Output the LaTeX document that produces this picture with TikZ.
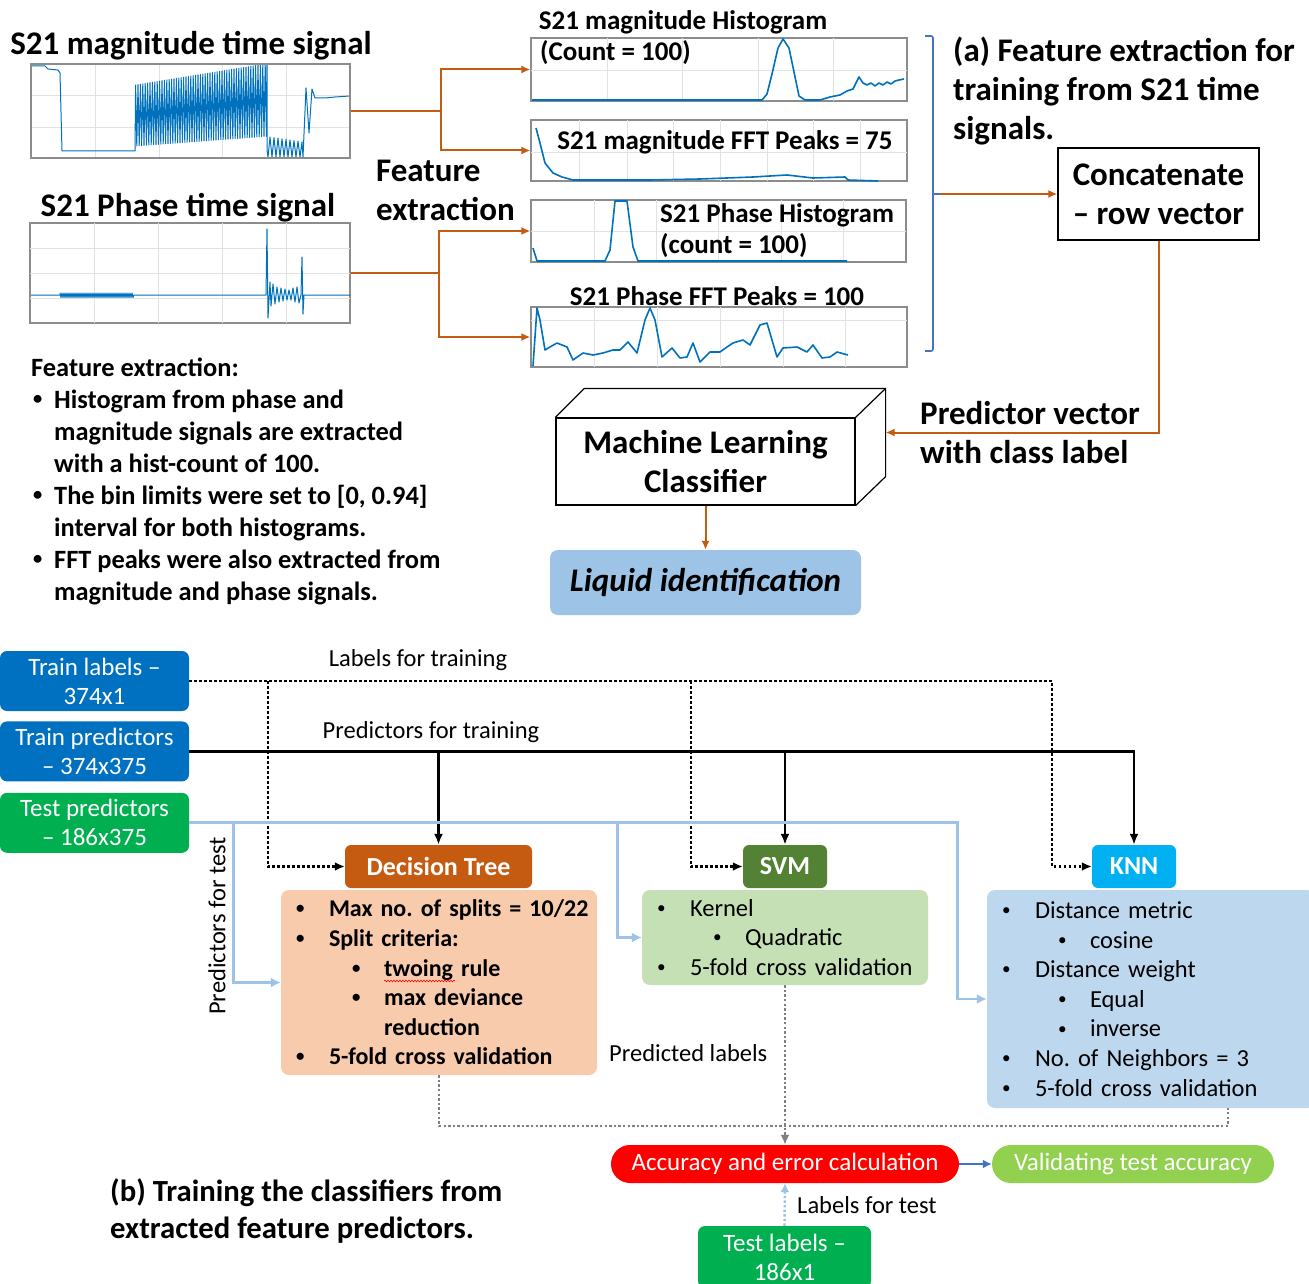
\documentclass[tikz,border=0pt]{standalone}
\usepackage{fontspec}
\usepackage{graphicx}
\setmainfont{Carlito}
\frenchspacing
\usetikzlibrary{positioning,arrows.meta,decorations.pathmorphing}

% colours
\definecolor{orline}{HTML}{C55A11}
\definecolor{brkblue}{HTML}{4472C4}
\definecolor{sigblue}{HTML}{0072BD}
\definecolor{gridgray}{HTML}{E2E2E2}
\definecolor{framegray}{HTML}{8C8C8C}
\definecolor{trainblue}{HTML}{0070C0}
\definecolor{testgreen}{HTML}{00B050}
\definecolor{dtfill}{HTML}{C55A11}
\definecolor{dtlight}{HTML}{F8CBAD}
\definecolor{svmfill}{HTML}{548235}
\definecolor{svmlight}{HTML}{C5E0B4}
\definecolor{knnfill}{HTML}{00B0F0}
\definecolor{knnlight}{HTML}{BDD7EE}
\definecolor{testlinec}{HTML}{9DC3E6}
\definecolor{liquidfill}{HTML}{9DC3E6}
\definecolor{accred}{HTML}{FF0000}
\definecolor{validgreen}{HTML}{92D050}
\definecolor{predgray}{HTML}{7F7F7F}

% fonts
\newcommand{\fnttitle}{\fontsize{33}{39}\selectfont\bfseries}
\newcommand{\fnthist}{\fontsize{27}{31}\selectfont\bfseries}
\newcommand{\fntside}{\fontsize{26.4}{32}\selectfont\bfseries}
\newcommand{\fntcap}{\fontsize{30.7}{37}\selectfont\bfseries}
\newcommand{\fntliquid}{\fontsize{33}{36}\selectfont\bfseries\itshape}
\newcommand{\fntlbl}{\fontsize{24.5}{29}\selectfont}
\newcommand{\fntbox}{\fontsize{25}{29}\selectfont}
\newcommand{\fnthead}{\fontsize{26}{30}\selectfont\bfseries}
\newcommand{\fntlist}{\fontsize{24.5}{29.6}\selectfont}
\newcommand{\dotmark}{\raisebox{0.12em}{\scalebox{0.7}{\textbullet}}}
\newcommand{\itm}{\makebox[36pt][l]{\hspace{3pt}\dotmark}}
\newcommand{\subitm}{\hspace*{56pt}\makebox[35pt][l]{\hspace{3pt}\dotmark}}

\begin{document}
\begin{tikzpicture}[x=1pt, y=-1pt,
    plotbox/.style={draw=framegray, line width=1.2pt, inner sep=0pt},
    gridln/.style={gridgray, line width=0.7pt},
    sig/.style={sigblue, line width=1pt, line join=round},
    bigtext/.style={font=\fnttitle, align=left, inner sep=0pt},
    histtext/.style={font=\fnthist, align=left, inner sep=0pt},
    orarrow/.style={orline, line width=2pt, -{Latex[length=9pt,width=8pt]}},
    trainbox/.style={fill=trainblue, text=white, rounded corners=7pt, minimum width=189, minimum height=60, inner sep=0pt, align=center, font=\fntbox},
    testbox/.style={trainbox, fill=testgreen},
    algohead/.style={text=white, rounded corners=6pt, minimum height=43, inner sep=0pt, font=\fnthead},
    algobody/.style={rounded corners=8pt, inner xsep=12pt, inner ysep=0pt, align=left, font=\fntlist},
    pillbox/.style={text=white, rounded corners=19pt, minimum height=38, inner sep=0pt, font=\fntbox},
    lbline/.style={black, line width=2.6pt, dash pattern=on 2.6pt off 2.4pt, -{Latex[length=10pt,width=9pt]}},
    trline/.style={black, line width=2.8pt, -{Latex[length=11pt,width=9pt]}},
    tsline/.style={testlinec, line width=2.8pt, -{Latex[length=10pt,width=10pt]}},
    pdline/.style={predgray, line width=2.4pt, dash pattern=on 2.4pt off 2.2pt},
    lbl/.style={font=\fntlbl, inner sep=0pt}
]
\useasboundingbox (0,0) rectangle (1309,1284);
\fill[white] (0,0) rectangle (1309,1284);

% ---------- (a) time signals ----------
\node[bigtext] (magtitle) at (191,46) {S21 magnitude time signal};
\node[plotbox, minimum width=319, minimum height=94] (magsig) at (190.5,111) {};
\foreach \gx in {95,159,222,286} \draw[gridln] (\gx,64) -- (\gx,158);
\foreach \gy in {95,127} \draw[gridln] (31,\gy) -- (350,\gy);
\draw[sig] (31,66) -- (45,66) -- (48,69) -- (58,70) -- (60,73) -- (62,151) -- (135,151)
  \foreach \i in {0,...,54} { -- ({135+2.4*\i+0.6},{85-0.39*\i}) -- ({135+2.4*\i+1.8},{146-0.18*\i}) }
  -- (267,64) -- (267,150)
  \foreach \i in {0,...,8} { -- ({268+4*\i},157) -- ({270+4*\i},{137+0.6*\i}) }
  -- (303,157) -- (306,88) -- (309,133) -- (312,89) -- (315,98) -- (325,98) -- (335,97) -- (350,96);
\node[plotbox, minimum width=319, minimum height=94] (magsig) at (190.5,111) {};

\node[bigtext] (phtitle) at (188,208) {S21 Phase time signal};
\node[plotbox, minimum width=320, minimum height=100] (phsig) at (190,273) {};
\foreach \gx in {94,158,222,286} \draw[gridln] (\gx,223) -- (\gx,323);
\foreach \gy in {248,273,298} \draw[gridln] (30,\gy) -- (350,\gy);
\draw[sig] (31,295) -- (60,295)
  \foreach \i in {0,...,36} { -- ({60+2*\i},293) -- ({61+2*\i},297.5) }
  -- (134,295) -- (266,295) -- (267,229) -- (268,318) -- (270,282) -- (271,306) -- (273,284)
  -- (275,304) -- (277,287) -- (279,302) -- (281,288) -- (283,301) -- (285,289) -- (287,300)
  -- (289,290) -- (291,300) -- (293,288) -- (295,302) -- (297,287) -- (299,303) -- (301,295)
  -- (302,257) -- (303,314) -- (304,295) -- (350,295);

\node[bigtext, anchor=west] (featlbl) at (376,190) {Feature\\extraction};

% ---------- (a) extracted features ----------
\node[histtext] (maghisttitle) at (683,22) {S21 magnitude Histogram};
\node[plotbox, minimum width=376, minimum height=63] (maghist) at (719,69.5) {};
\foreach \gx in {607,682,758,833} \draw[gridln] (\gx,38) -- (\gx,101);
\draw[gridln] (531,70) -- (907,70);
\draw[sig, line width=1.6pt] (532,100) -- (762,100) -- (767,94) -- (772,74) -- (778,48) -- (783,39) -- (789,48)
  -- (794,72) -- (799,96) -- (805,100) -- (820,100) -- (830,97) -- (840,95) -- (847,91) -- (853,89)
  -- (859,77) -- (863,83) -- (867,85) -- (871,83) -- (875,86) -- (879,83) -- (883,85) -- (887,82)
  -- (891,84) -- (895,81) -- (899,80) -- (904,79);
\node[histtext, anchor=west] (maghistlbl) at (540,53) {(Count = 100)};

\node[plotbox, minimum width=376, minimum height=61] (magfft) at (719,150.5) {};
\foreach \gx in {579,627,673,720,767,813,860} \draw[gridln] (\gx,120) -- (\gx,181);
\draw[gridln] (531,152) -- (907,152);
\draw[sig, line width=1.6pt] (536,128) -- (540,143) -- (545,163) -- (553,173) -- (562,177) -- (573,180)
  -- (650,180) -- (700,179) -- (753,177) -- (787,175) -- (813,178) -- (845,177) -- (848,180) -- (878,181);
\node[histtext] (magfftlbl) at (725,142) {S21 magnitude FFT Peaks = 75};

\node[plotbox, minimum width=375, minimum height=62] (phhist) at (718.5,231) {};
\foreach \gx in {594,656,718,781,843} \draw[gridln] (\gx,200) -- (\gx,262);
\draw[gridln] (531,231) -- (906,231);
\draw[sig, line width=1.6pt] (533,248) -- (537,261) -- (605,261) -- (610,250) -- (615,201) -- (627,201)
  -- (633,247) -- (638,261) -- (847,261);
\node[histtext, anchor=west] (phhistlbl) at (660,231) {S21 Phase Histogram\\(count = 100)};

\node[histtext] (phffttitle) at (717,296) {S21 Phase FFT Peaks = 100};
\node[plotbox, minimum width=376, minimum height=60] (phfft) at (719,337) {};
\foreach \gx in {594,657,720,783,845} \draw[gridln] (\gx,307) -- (\gx,367);
\draw[gridln] (531,320) -- (907,320);
\draw[sig, line width=1.6pt] (533,366) -- (537,308) -- (540,320) -- (545,350) -- (550,347) -- (557,343)
  -- (567,347) -- (573,360) -- (583,353) -- (593,355) -- (603,353) -- (613,350) -- (620,350) -- (628,342)
  -- (637,353) -- (645,320) -- (650,308) -- (655,320) -- (662,357) -- (672,348) -- (680,358) -- (687,357)
  -- (693,343) -- (700,362) -- (710,352) -- (720,352) -- (727,347) -- (733,343) -- (743,340) -- (750,345)
  -- (760,325) -- (767,323) -- (777,357) -- (783,348) -- (797,347) -- (807,352) -- (813,345) -- (822,358)
  -- (830,357) -- (837,352) -- (848,355);

\draw[orarrow] (magsig.east) -- ++(90,0) |- (maghist.west);
\draw[orarrow] (magsig.east) -- ++(90,0) |- (magfft.west);
\draw[orarrow] (phsig.east) -- ++(88,0) |- (phhist.west);
\draw[orarrow] (phsig.east) -- ++(88,0) |- (phfft.west);

% bracket and concatenation
\draw[brkblue, line width=1.6pt, rounded corners=2pt] (925,36) -- (933,36) -- (933,351) -- (925,351);
\coordinate (brmid) at (933,194);
\draw[brkblue, line width=1.6pt] (brmid) -- ++(7,0);
\node[bigtext, anchor=west] (capa) at (953,91) {(a) Feature extraction for\\training from S21 time\\signals.};
\node[draw, line width=1.2pt, minimum width=201, minimum height=92, font=\fnttitle, align=left] (concat) at (1158.5,194) {Concatenate\\– row vector};
\draw[orarrow] ([xshift=7]brmid) -- (concat.west);

% classifier
\node[draw, line width=1.2pt, minimum width=299, minimum height=87, font=\fnttitle, align=center] (ml) at (705.5,461.5) {Machine Learning\\Classifier};
\draw[line width=1.2pt, line join=round] (ml.north west) -- ++(29,-29) -- ([shift={(30,-29)}]ml.north east)
  -- ([shift={(30,-29)}]ml.south east) -- (ml.south east);
\draw[line width=1.2pt] (ml.north east) -- ++(30,-29);
\coordinate (mlside) at ([shift={(30,-29)}]ml.east);
\draw[orarrow] (concat.south) |- (mlside);
\node[bigtext, anchor=west] (predvec) at (920,433) {Predictor vector\\with class label};
\node[fill=liquidfill, rounded corners=8pt, minimum width=311, minimum height=65, font=\fntliquid] (liquid) at (705.5,582.5) {Liquid identification};
\draw[orarrow] (ml.south) -- (liquid.north);

\node[anchor=west, font=\fntside, align=left, inner sep=0pt] (featlist) at (31,481) {Feature extraction:\\
  \makebox[23pt][l]{\hspace{2pt}\dotmark}Histogram from phase and\\
  \hspace*{23pt}magnitude signals are extracted\\
  \hspace*{23pt}with a hist-count of 100.\\
  \makebox[23pt][l]{\hspace{2pt}\dotmark}The bin limits were set to [0, 0.94]\\
  \hspace*{23pt}interval for both histograms.\\
  \makebox[23pt][l]{\hspace{2pt}\dotmark}FFT peaks were also extracted from\\
  \hspace*{23pt}magnitude and phase signals.};

% ---------- (b) training ----------
\node[trainbox] (trainlab) at (94.5,681) {Train labels –\\374x1};
\node[trainbox, below=10pt of trainlab] (trainpred) {Train predictors\\– 374x375};
\node[testbox, below=11pt of trainpred] (testpred) {Test predictors\\– 186x375};

\node[algohead, fill=dtfill, minimum width=187] (dt) at (438.5,866.5) {Decision Tree};
\node[algohead, fill=svmfill, minimum width=84] (svm) at (785,866.5) {SVM};
\node[algohead, fill=knnfill, minimum width=84] (knn) at (1134,866.5) {KNN};

\node[algobody, fill=dtlight, font=\fontsize{24}{29.6}\selectfont\bfseries, minimum width=316, minimum height=185, text width=292] (dtbody) at (439,982.5) {%
  \mbox{\itm Max no. of splits = 10/22}\\
  \itm Split criteria:\\
  \subitm twoing rule\\
  \subitm max deviance\\
  \hspace*{91pt}reduction\\
  \itm 5-fold cross validation};
\draw[red, line width=0.6pt, decorate, decoration={snake, amplitude=0.8pt, segment length=3pt}] (384,981) -- (455,981);
\node[algobody, fill=svmlight, minimum width=286, minimum height=95, text width=262] (svmbody) at (785,937.5) {%
  \itm Kernel\\
  \subitm Quadratic\\
  \itm 5-fold cross validation};
\node[algobody, fill=knnlight, minimum width=328, minimum height=218, text width=304] (knnbody) at (1151,999) {%
  \itm Distance metric\\
  \subitm cosine\\
  \itm Distance weight\\
  \subitm Equal\\
  \subitm inverse\\
  \itm No. of Neighbors = 3\\
  \itm 5-fold cross validation};

% labels for training
\node[lbl] (lbltrain) at (418,660) {Labels for training};
\draw[lbline] (trainlab.east) -- ([xshift=-40]knn.west |- trainlab.east) -- ([xshift=-40]knn.west) -- (knn.west);
\draw[lbline] ([xshift=-77]dt.west |- trainlab.east) -- ([xshift=-77]dt.west) -- (dt.west);
\draw[lbline] ([xshift=-52]svm.west |- trainlab.east) -- ([xshift=-52]svm.west) -- (svm.west);

% predictors for training
\node[lbl] (lblpred) at (431,732) {Predictors for training};
\draw[trline] (trainpred.east) -- (knn.north |- trainpred.east) -- (knn.north);
\draw[trline] (dt.north |- trainpred.east) -- (dt.north);
\draw[trline] (svm.north |- trainpred.east) -- (svm.north);

% predictors for test
\draw[tsline] (testpred.east) -- ([xshift=-29]knnbody.west |- testpred.east) -- ([xshift=-29]knnbody.west) -- (knnbody.west);
\draw[tsline] ([xshift=-47]dtbody.west |- testpred.east) -- ([xshift=-47]dtbody.west) -- (dtbody.west);
\draw[tsline] ([xshift=-24]svmbody.west |- testpred.east) -- ([xshift=-24]svmbody.west) -- (svmbody.west);
\node[lbl, rotate=90] (lbltestpred) at (217,926) {Predictors for test};

% accuracy
\node[pillbox, fill=accred, minimum width=348] (acc) at (785,1164) {Accuracy and error calculation};
\node[pillbox, fill=validgreen, minimum width=282] (valid) at (1133,1164) {Validating test accuracy};
\node[testbox, minimum width=173, minimum height=62] (testlab) at (784.5,1257) {Test labels –\\186x1};

\draw[pdline] (dtbody.south) |- ([yshift=19]acc.north) -| ([xshift=77]knnbody.south);
\draw[pdline, -{Latex[length=10pt,width=9pt]}] (svmbody.south) -- (acc.north);
\node[lbl, anchor=west] (lblpredicted) at (609,1053) {Predicted labels};
\draw[brkblue, line width=2.8pt, -{Latex[length=9pt,width=9pt]}] (acc.east) -- (valid.west);
\draw[testlinec, line width=2.4pt, dash pattern=on 2.4pt off 2.2pt, -{Latex[length=9pt,width=9pt]}] (testlab.north) -- (acc.south);
\node[lbl, anchor=west] (lbltest) at (797,1205) {Labels for test};

\node[font=\fntcap, align=left, inner sep=0pt, anchor=west] (capb) at (110,1211) {(b) Training the classifiers from\\extracted feature predictors.};
\end{tikzpicture}
\end{document}
